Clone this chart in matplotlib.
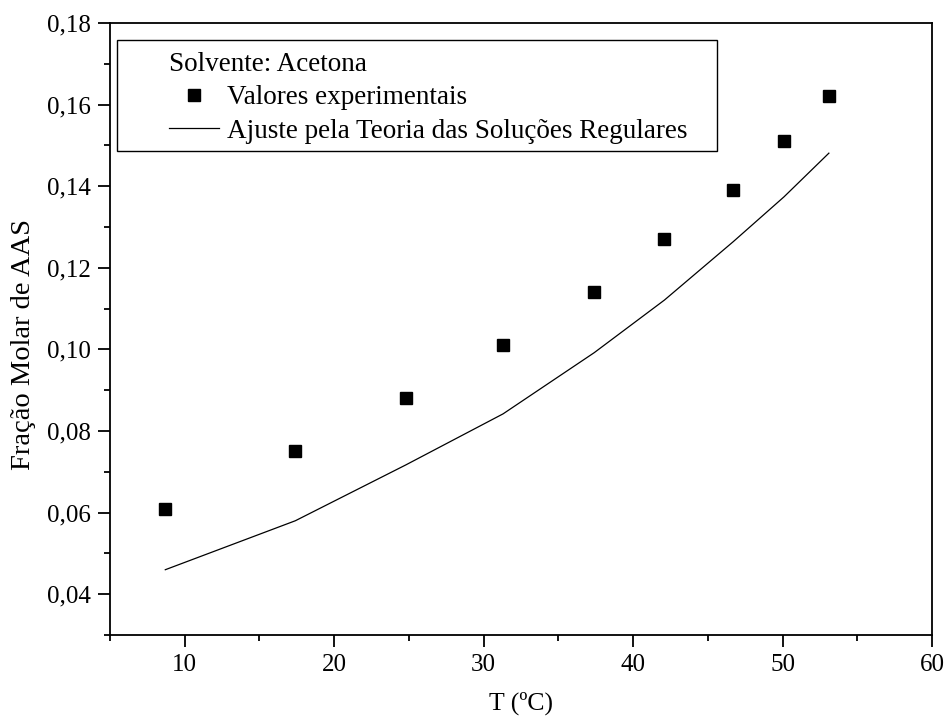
import matplotlib
matplotlib.use('Agg')
import matplotlib.pyplot as plt
from matplotlib.patches import Rectangle
from matplotlib.ticker import MultipleLocator, FuncFormatter

# Data
temperatura = [8.7, 17.4, 24.8, 31.3, 37.4, 42.1, 46.7, 50.1, 53.1]
fracao_exp = [0.061, 0.075, 0.088, 0.101, 0.114, 0.127, 0.139, 0.151, 0.162]
fracao_ajuste = [0.046, 0.058, 0.0717, 0.0842, 0.0992, 0.1121, 0.1264, 0.1374, 0.1481]

legend_title = "Solvente: Acetona"
label_exp = "Valores experimentais"
label_fit = "Ajuste pela Teoria das Soluções Regulares"

plt.rcParams['font.family'] = ['Liberation Serif', 'DejaVu Serif']
plt.rcParams['font.size'] = 18

fig = plt.figure(figsize=(9.46, 7.24), dpi=100)
ax = fig.add_axes([110 / 946, 1 - 635 / 724, 822 / 946, 612 / 724])

ax.plot(temperatura, fracao_exp, 's', color='black', markersize=8.4, label=label_exp)
ax.plot(temperatura, fracao_ajuste, '-', color='black', linewidth=0.9, label=label_fit)

ax.set_xlim(5, 60)
ax.set_ylim(0.03, 0.18)

# Origin-like axes: outward ticks on left/bottom only
ax.xaxis.set_major_locator(MultipleLocator(10))
ax.xaxis.set_minor_locator(MultipleLocator(5))
ax.yaxis.set_major_locator(MultipleLocator(0.02))
ax.yaxis.set_minor_locator(MultipleLocator(0.01))
ax.yaxis.set_major_formatter(FuncFormatter(lambda v, p: f"{v:.2f}".replace('.', ',')))
ax.tick_params(which='both', direction='out', width=1.3, top=False, right=False)
ax.tick_params(which='major', length=8.6, pad=5)
ax.tick_params(which='minor', length=4.3)
for s in ax.spines.values():
    s.set_linewidth(1.3)

ax.set_xlabel("T (ºC)", labelpad=11, fontsize=18.5)
ax.set_ylabel("Fração Molar de AAS", fontsize=20.5)
ax.yaxis.set_label_coords(-0.090, 0.474)

# Legend without frame, frame drawn as a box like in Origin
leg = ax.legend(title=legend_title, loc='upper left', bbox_to_anchor=(0.042, 0.992),
                frameon=False, numpoints=1, handlelength=1.85, handletextpad=0.3,
                labelspacing=0.3, borderpad=0.4, fontsize=19.5, title_fontsize=19.5,
                alignment='left')
ax.add_patch(Rectangle((0.0085, 0.791), 0.730, 0.181, transform=ax.transAxes,
                       fill=False, edgecolor='black', linewidth=1.0, zorder=5))

fig.savefig("out.png", dpi=100)
